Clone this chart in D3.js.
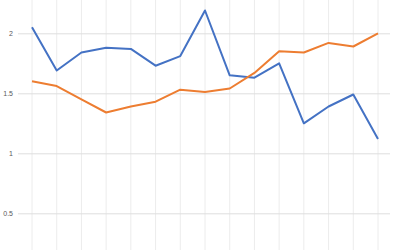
<!DOCTYPE html>
<html>
<head>
<meta charset="utf-8">
<script src="https://cdn.jsdelivr.net/npm/d3@7"></script>
<style>
  body { margin: 0; background: #fff; }
  svg { display: block; }
</style>
</head>
<body>
<div id="chart"></div>
<script>
const categories = d3.range(1, 16);
const blueValues = [2.05, 1.69, 1.84, 1.88, 1.87, 1.73, 1.81, 2.19, 1.65, 1.63, 1.75, 1.25, 1.39, 1.49, 1.12];
const orangeValues = [1.60, 1.56, 1.45, 1.34, 1.39, 1.43, 1.53, 1.51, 1.54, 1.67, 1.85, 1.84, 1.92, 1.89, 2.00];
const yTicks = [0.5, 1, 1.5, 2];

const width = 400, height = 250;
const svg = d3.select('#chart').append('svg')
        .attr('width', width)
        .attr('height', height);

const x = d3.scalePoint().domain(categories).range([32, 378]);
const y = d3.scaleLinear().domain([0.5, 2]).range([213.3, 33.3]);

// vertical gridlines through each category
svg.append('g')
        .selectAll('line')
        .data(categories)
        .join('line')
        .attr('x1', d => x(d)).attr('x2', d => x(d))
        .attr('y1', 0).attr('y2', height)
        .attr('stroke', '#ececec')
        .attr('stroke-width', 1);

// horizontal gridlines + labels via axis
const yAxis = svg.append('g')
        .attr('transform', 'translate(18,0)')
        .call(d3.axisLeft(y).tickValues(yTicks).tickSize(-372).tickPadding(5).tickFormat(d3.format('')));
yAxis.select('.domain').remove();
yAxis.selectAll('line').attr('stroke', '#dedede');
yAxis.selectAll('text')
        .attr('fill', '#595959')
        .style('font-family', '"Liberation Sans", Arial, sans-serif')
        .style('font-size', '7px');

const line = d3.line().x((d, i) => x(categories[i])).y(d => y(d));

svg.append('path')
        .datum(blueValues)
        .attr('d', line)
        .attr('fill', 'none')
        .attr('stroke', '#4472C4')
        .attr('stroke-width', 2)
        .attr('stroke-linejoin', 'round');

svg.append('path')
        .datum(orangeValues)
        .attr('d', line)
        .attr('fill', 'none')
        .attr('stroke', '#ED7D31')
        .attr('stroke-width', 2)
        .attr('stroke-linejoin', 'round');
</script>
</body>
</html>
